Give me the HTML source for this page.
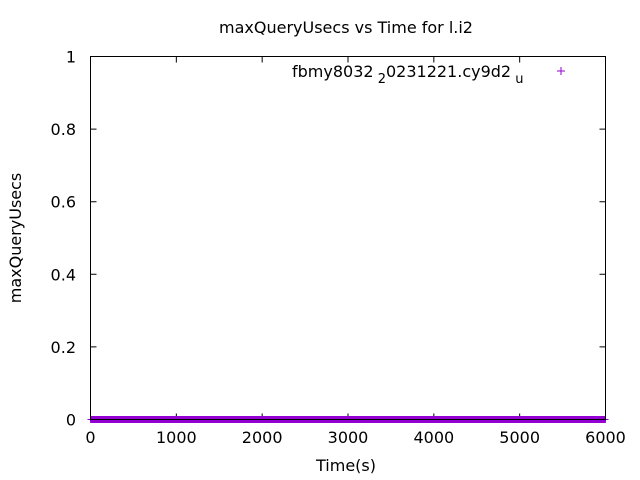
<!DOCTYPE html>
<html><head><meta charset="utf-8"><style>
body{margin:0;background:#fff}
svg{display:block;font-family:"DejaVu Sans","Liberation Sans",sans-serif}
</style></head><body>
<svg id="c" width="640" height="480" viewBox="0 0 640 480">
<text x="346" y="33" text-anchor="middle" font-size="16">maxQueryUsecs vs Time for l.i2</text>
<text transform="translate(21,238) rotate(-90)" text-anchor="middle" font-size="16">maxQueryUsecs</text>
<text x="346" y="471" text-anchor="middle" font-size="16">Time(s)</text>
<g id="axes"></g>
<g id="marks"></g>
<rect x="90.5" y="56.5" width="515" height="363" fill="none" stroke="#000" stroke-width="1"/>
<g>
<text x="292" y="77" font-size="16">fbmy8032<tspan dy="6" font-size="13"> 2</tspan><tspan dy="-6">0231221.cy9d2</tspan><tspan dy="6" font-size="13"> u</tspan></text>
<path d="M557 71h8M561 67v8" stroke="#9400d3" stroke-width="1"/>
</g>
</svg>
<script>
const xTicks=[0,1000,2000,3000,4000,5000,6000];
const yTicks=[0,0.2,0.4,0.6,0.8,1];
const yTickLabels=["0","0.2","0.4","0.6","0.8","1"];
const times=[0,100,200,300,400,500,600,700,800,900,1000,1100,1200,1300,1400,1500,1600,1700,1800,1900,2000,2100,2200,2300,2400,2500,2600,2700,2800,2900,3000,3100,3200,3300,3400,3500,3600,3700,3800,3900,4000,4100,4200,4300,4400,4500,4600,4700,4800,4900,5000,5100,5200,5300,5400,5500,5600,5700,5800,5900,6000];
const values=[0,0,0,0,0,0,0,0,0,0,0,0,0,0,0,0,0,0,0,0,0,0,0,0,0,0,0,0,0,0,0,0,0,0,0,0,0,0,0,0,0,0,0,0,0,0,0,0,0,0,0,0,0,0,0,0,0,0,0,0,0];
const NS="http://www.w3.org/2000/svg";
const X=t=>90.5+t*515/6000, Y=v=>419.5-v*363;
const axes=document.getElementById('axes'), marks=document.getElementById('marks');
function mk(tag,attrs,parent){const e=document.createElementNS(NS,tag);for(const k in attrs)e.setAttribute(k,attrs[k]);parent.appendChild(e);return e;}
xTicks.forEach(t=>{
  const x=X(t);
  const l=mk('path',{d:`M${x} 419.5v-6M${x} 56.5v6`,stroke:'#000'},axes);
  
  
  const tx=mk('text',{x:x,y:443,'text-anchor':'middle','font-size':16},axes);
  tx.textContent=t;
  
  
});
yTicks.forEach((v,i)=>{
  const y=Y(v);
  const l=mk('path',{d:`M90.5 ${y}h6M605.5 ${y}h-6`,stroke:'#000'},axes);
  
  
  const tx=mk('text',{x:76,y:y+6,'text-anchor':'end','font-size':16},axes);
  tx.textContent=yTickLabels[i];
  
  
});
const pts=times.map((t,i)=>X(t)+','+Y(values[i])).join(' ');
const band=mk('polyline',{points:pts,fill:'none',stroke:'#9400d3','stroke-width':7},marks);


times.forEach((t,i)=>{
  const x=X(t),y=Y(values[i]);
  const p=mk('path',{d:`M${x-3} ${y}h6M${x} ${y-3}v6`,stroke:'#9400d3','stroke-width':1},marks);
  
  
});
const zl=mk('path',{d:'M90.5 419.5H605.5',stroke:'#000','stroke-width':1},marks);


</script>
</body></html>
